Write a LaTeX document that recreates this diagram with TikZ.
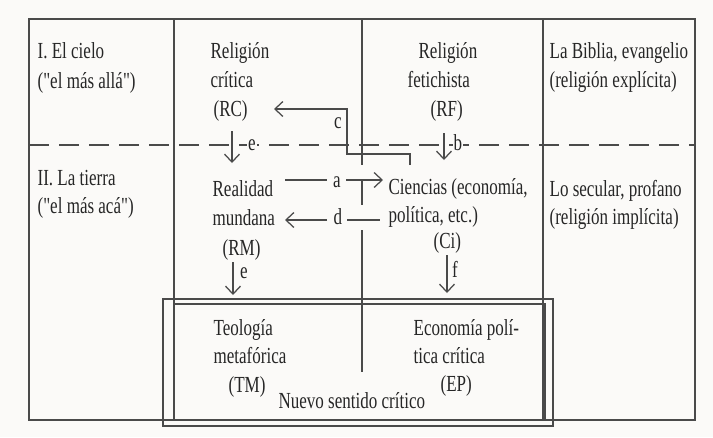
\documentclass[tikz,border=0pt]{standalone}
\usepackage{fontspec}
\setmainfont{Liberation Serif}[FakeStretch=0.74,Ligatures=TeXOff]
\usetikzlibrary{arrows.meta}
\definecolor{ln}{HTML}{4A4A4A}
\definecolor{tx}{HTML}{262626}
\definecolor{bg}{HTML}{FBFAF8}
\begin{document}
\begin{tikzpicture}[x=1pt,y=-1pt,line width=1.25pt,color=ln,
  lbl/.style={anchor=base west,inner sep=0pt,text=tx,font=\fontsize{23}{26}\selectfont},
  tag/.style={anchor=base,inner sep=1pt,text=tx,font=\fontsize{23}{26}\selectfont},
  arr/.style={-{Straight Barb[length=8pt,width=15pt,line width=1.25pt]}},
  dsh/.style={dash pattern=on 20pt off 10pt}]
\fill[bg] (0,0) rectangle (713,437);
\useasboundingbox (0,0) rectangle (713,437);
% frame and grid
\draw (29,19) rectangle (695,420);
\draw (174,19) -- (174,420);
\draw (543,19) -- (543,420);
\draw (362,19) -- (362,165);
\draw (362,230) -- (362,372);
\draw[dsh] (29,145) -- (695,145);
% Nuevo sentido critico boxes
\draw (174,304) rectangle (545,420);
\draw (163,299) rectangle (553,426);
% texts
\node[lbl] (c1a) at (37,58) {I. El cielo};
\node[lbl] (c1b) at (37,88) {("el más allá")};
\node[lbl] (t1a) at (37,185) {II. La tierra};
\node[lbl] (t1b) at (37,213) {("el más acá")};
\node[lbl] (rc1) at (210,58) {Religión};
\node[lbl] (rc2) at (210,87) {crítica};
\node[lbl] (rc) at (213,116) {(RC)};
\node[lbl] (rf1) at (418,58) {Religión};
\node[lbl] (rf2) at (407,87) {fetichista};
\node[lbl] (rf) at (430,116) {(RF)};
\node[lbl] (bi1) at (549,58) {La Biblia, evangelio};
\node[lbl] (bi2) at (549,87) {(religión explícita)};
\node[lbl] (rm1) at (212,196) {Realidad};
\node[lbl] (rm2) at (212,225) {mundana};
\node[lbl] (rm) at (222,255) {(RM)};
\node[lbl] (ci1) at (388,194) {Ciencias (economía,};
\node[lbl] (ci2) at (388,222) {política, etc.)};
\node[lbl] (ci) at (433,248) {(Ci)};
\node[lbl] (se1) at (549,196) {Lo secular, profano};
\node[lbl] (se2) at (549,224) {(religión implícita)};
\node[lbl] (tm1) at (213,335) {Teología};
\node[lbl] (tm2) at (213,363) {metafórica};
\node[lbl] (tm) at (228,392) {(TM)};
\node[lbl] (ep1) at (413,335) {Economía polí-};
\node[lbl] (ep2) at (413,363) {tica crítica};
\node[lbl] (ep) at (440,391) {(EP)};
\node[lbl] (ns) at (278,408) {Nuevo sentido crítico};
% connector end points
\coordinate (cS) at (410,165);
\coordinate (cA) at (410,154);
\coordinate (cB) at (347,154);
\coordinate (cC) at (347,109);
\coordinate (cE) at (274,109);
\coordinate (eS) at (232,131);
\coordinate (eE) at (232,163);
\coordinate (bS) at (444,133);
\coordinate (bE) at (444,160);
\coordinate (aS) at (285,180);
\coordinate (aM) at (327,180);
\coordinate (aN) at (346,180);
\coordinate (aE) at (383,180);
\coordinate (tT) at (362,180);
\coordinate (tB) at (362,205);
\coordinate (dE) at (285,220);
\coordinate (dM) at (327,220);
\coordinate (dN) at (347,220);
\coordinate (dS) at (380,220);
\coordinate (e2S) at (233,262);
\coordinate (e2E) at (233,295);
\coordinate (fS) at (447,255);
\coordinate (fE) at (447,293);
% connectors
\draw[arr] (cS) -- (cA) -- (cB) -- (cC) -- (cE);
\node[tag] (lc) at (338,128) {c};
\draw[arr] (eS) -- (eE);
\node[tag,fill=bg] (le) at (252,150) {e};
\draw[arr] (bS) -- (bE);
\node[tag,fill=bg] (lb) at (458,150) {b};
\draw (aS) -- (aM);
\node[tag] (la) at (337,187) {a};
\draw[arr] (aN) -- (aE);
\draw (tT) -- (tB);
\draw[arr] (dM) -- (dE);
\node[tag] (ld) at (338,224) {d};
\draw (dN) -- (dS);
\draw[arr] (e2S) -- (e2E);
\node[tag] (le2) at (244,278) {e};
\draw[arr] (fS) -- (fE);
\node[tag] (lf) at (455,277) {f};
\end{tikzpicture}
\end{document}
